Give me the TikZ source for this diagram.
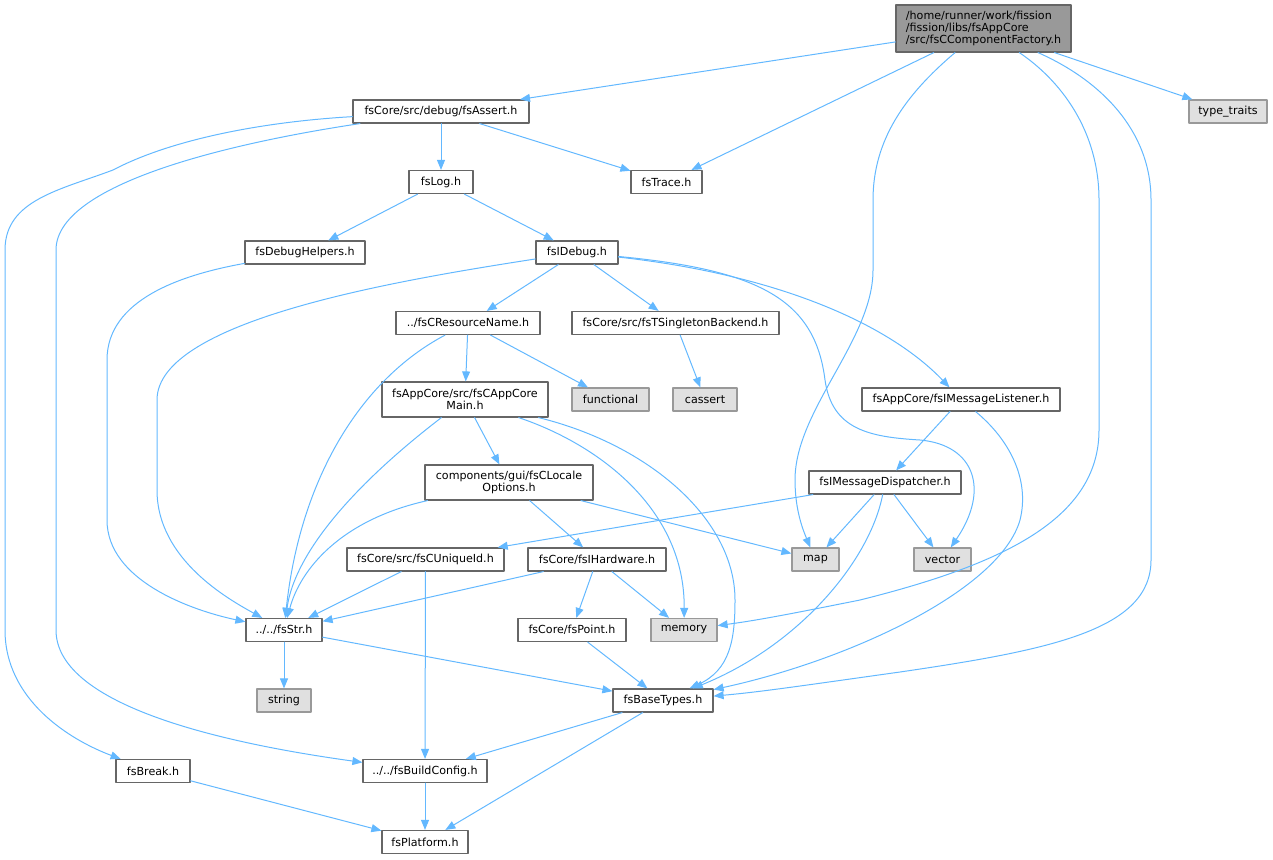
\documentclass[tikz,border=0pt]{standalone}
\usepackage{fontspec}
\setmainfont{DejaVu Sans}
\usetikzlibrary{arrows.meta}
\definecolor{edgeblue}{HTML}{63B8FF}
\definecolor{boxline}{HTML}{666666}
\definecolor{sysline}{HTML}{999999}
\definecolor{sysfill}{HTML}{E0E0E0}
\definecolor{rootfill}{HTML}{999999}

\begin{document}
\begin{tikzpicture}[x=1pt,y=-1pt,line cap=round,line join=round,
  file/.style={draw=boxline,fill=white,line width=1.2pt,inner sep=0pt,minimum height=23pt,
    font=\fontsize{11.1}{12.2}\selectfont},
  sysfile/.style={file,draw=sysline,fill=sysfill},
  dep/.style={draw=edgeblue,line width=1pt,-{Triangle[length=10pt,width=8pt]}}]
\useasboundingbox (0,0) rectangle (1273,859);

% files
\node[file,fill=rootfill,minimum width=175pt,minimum height=47pt,align=left] (root) at (983.5,28.5)
  {/home/runner/work/fission\\/fission/libs/fsAppCore\\/src/fsCComponentFactory.h};
\node[file,minimum width=176pt] (assert) at (441,111.5) {fsCore/src/debug/fsAssert.h};
\node[sysfile,minimum width=78pt] (traits) at (1228,111.5) {type\_traits};
\node[file,minimum width=64pt] (log) at (441,182) {fsLog.h};
\node[file,minimum width=71pt] (trace) at (666.5,182) {fsTrace.h};
\node[file,minimum width=120pt] (dbghelp) at (305,252.5) {fsDebugHelpers.h};
\node[file,minimum width=82pt] (idebug) at (577,252.5) {fsIDebug.h};
\node[file,minimum width=144pt] (resname) at (468,323) {../fsCResourceName.h};
\node[file,minimum width=207pt] (singleton) at (675.5,323) {fsCore/src/fsTSingletonBackend.h};
\node[file,minimum width=166pt,minimum height=35pt,align=center] (appmain) at (465,399.5)
  {fsAppCore/src/fsCAppCore\\Main.h};
\node[sysfile,minimum width=77pt] (functional) at (610.5,399.5) {functional};
\node[sysfile,minimum width=64pt] (cassert) at (705,399.5) {cassert};
\node[file,minimum width=198pt] (listener) at (961,399.5) {fsAppCore/fsIMessageListener.h};
\node[file,minimum width=168pt,minimum height=35pt,align=center] (locale) at (509,482.5)
  {components/gui/fsCLocale\\Options.h};
\node[file,minimum width=152pt] (dispatcher) at (885,482.5) {fsIMessageDispatcher.h};
\node[file,minimum width=157pt] (uniqueid) at (425.5,559.5) {fsCore/src/fsCUniqueId.h};
\node[file,minimum width=138pt] (hardware) at (597,559.5) {fsCore/fsIHardware.h};
\node[sysfile,minimum width=47pt] (map) at (815.5,559.5) {map};
\node[sysfile,minimum width=57pt] (vector) at (942.5,559.5) {vector};
\node[file,minimum width=76pt] (str) at (284,630) {../../fsStr.h};
\node[file,minimum width=108pt] (point) at (572,630) {fsCore/fsPoint.h};
\node[sysfile,minimum width=66pt] (memory) at (684,630) {memory};
\node[sysfile,minimum width=54pt] (string) at (284,700.5) {string};
\node[file,minimum width=100pt] (basetypes) at (663,700.5) {fsBaseTypes.h};
\node[file,minimum width=74pt] (brk) at (153,771) {fsBreak.h};
\node[file,minimum width=124pt] (buildcfg) at (425,771) {../../fsBuildConfig.h};
\node[file,minimum width=86pt] (platform) at (425,842) {fsPlatform.h};

% includes
\draw[dep] (root) -- (assert);
\draw[dep] (root) -- (trace);
\draw[dep] (root) -- (traits);
\draw[dep] (root) .. controls (905,95) and (873,140) .. (873,200) -- (873,270)
  .. controls (873,340) and (795,410) .. (795,480) .. controls (795,510) and (803,530) .. (map);
\draw[dep] (root) .. controls (1060,80) and (1099,130) .. (1099,200) -- (1099,430)
  .. controls (1099,520) and (1000,565) .. (860,600) .. controls (800,612) and (760,620) .. (memory);
\draw[dep] (root) .. controls (1100,80) and (1151,130) .. (1151,200) -- (1151,560)
  .. controls (1151,630) and (1050,650) .. (900,672) .. controls (800,686) and (760,692) .. (basetypes);

\draw[dep] (assert) -- (log);
\draw[dep] (assert) -- (trace);
\draw[dep] (assert) .. controls (260,122) and (170,140) .. (113,170)
  .. controls (60,190) and (5,200) .. (5,250) -- (5,630) .. controls (5,700) and (70,740) .. (brk);
\draw[dep] (assert) .. controls (250,140) and (56,180) .. (56,250) -- (56,630)
  .. controls (56,700) and (200,740) .. (buildcfg);

\draw[dep] (log) -- (dbghelp);
\draw[dep] (log) -- (idebug);
\draw[dep] (dbghelp) .. controls (180,275) and (107,300) .. (107,360) -- (107,520)
  .. controls (107,580) and (190,610) .. (str);

\draw[dep] (idebug) .. controls (400,280) and (157,320) .. (157,400) -- (157,490)
  .. controls (157,560) and (230,600) .. (str);
\draw[dep] (idebug) -- (resname);
\draw[dep] (idebug) -- (singleton);
\draw[dep] (idebug) .. controls (760,270) and (815,300) .. (825,380)
  .. controls (832,430) and (870,437) .. (920,440) .. controls (975,445) and (990,490) .. (vector);
\draw[dep] (idebug) .. controls (780,275) and (890,325) .. (listener);

\draw[dep] (resname) .. controls (360,380) and (300,480) .. (str);
\draw[dep] (resname) -- (appmain);
\draw[dep] (resname) -- (functional);
\draw[dep] (singleton) -- (cassert);

\draw[dep] (appmain) .. controls (360,480) and (295,550) .. (str);
\draw[dep] (appmain) -- (locale);
\draw[dep] (appmain) .. controls (600,445) and (685,510) .. (memory);
\draw[dep] (appmain) .. controls (650,445) and (735,520) .. (735,600)
  .. controls (735,640) and (730,670) .. (basetypes);

\draw[dep] (locale) .. controls (340,520) and (300,570) .. (str);
\draw[dep] (locale) -- (hardware);
\draw[dep] (locale) -- (map);

\draw[dep] (listener) -- (dispatcher);
\draw[dep] (listener) .. controls (1010,440) and (1030,480) .. (1020,520)
  .. controls (1000,590) and (850,660) .. (basetypes);

\draw[dep] (dispatcher) -- (uniqueid);
\draw[dep] (dispatcher) -- (map);
\draw[dep] (dispatcher) -- (vector);
\draw[dep] (dispatcher) .. controls (870,560) and (800,645) .. (basetypes);

\draw[dep] (uniqueid) -- (str);
\draw[dep] (uniqueid) -- (buildcfg);
\draw[dep] (hardware) -- (str);
\draw[dep] (hardware) -- (point);
\draw[dep] (hardware) -- (memory);
\draw[dep] (point) -- (basetypes);
\draw[dep] (str) -- (string);
\draw[dep] (str) -- (basetypes);
\draw[dep] (basetypes) -- (buildcfg);
\draw[dep] (basetypes) -- (platform);
\draw[dep] (buildcfg) -- (platform);
\draw[dep] (brk) -- (platform);
\end{tikzpicture}
\end{document}
